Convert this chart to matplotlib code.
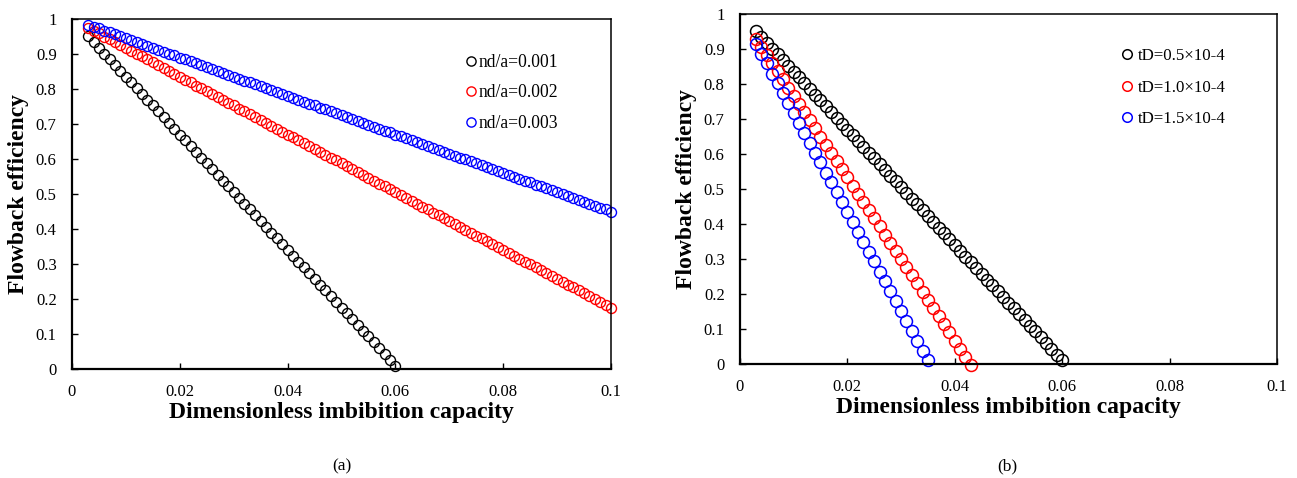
import matplotlib
matplotlib.use("Agg")
import matplotlib.pyplot as plt

plt.rcParams['font.family'] = ['Liberation Serif', 'DejaVu Serif']

# common x grid (dimensionless imbibition capacity)
x_grid = [0.003, 0.004, 0.005, 0.006, 0.007, 0.008, 0.009, 0.010, 0.011, 0.012,
          0.013, 0.014, 0.015, 0.016, 0.017, 0.018, 0.019, 0.020, 0.021, 0.022,
          0.023, 0.024, 0.025, 0.026, 0.027, 0.028, 0.029, 0.030, 0.031, 0.032,
          0.033, 0.034, 0.035, 0.036, 0.037, 0.038, 0.039, 0.040, 0.041, 0.042,
          0.043, 0.044, 0.045, 0.046, 0.047, 0.048, 0.049, 0.050, 0.051, 0.052,
          0.053, 0.054, 0.055, 0.056, 0.057, 0.058, 0.059, 0.060, 0.061, 0.062,
          0.063, 0.064, 0.065, 0.066, 0.067, 0.068, 0.069, 0.070, 0.071, 0.072,
          0.073, 0.074, 0.075, 0.076, 0.077, 0.078, 0.079, 0.080, 0.081, 0.082,
          0.083, 0.084, 0.085, 0.086, 0.087, 0.088, 0.089, 0.090, 0.091, 0.092,
          0.093, 0.094, 0.095, 0.096, 0.097, 0.098, 0.099, 0.100]

# (a) and (b) black series: nd/a=0.001, tD=0.5x10-4
eff_1 = [0.951, 0.934, 0.918, 0.901, 0.885, 0.868, 0.852, 0.835, 0.819, 0.802,
         0.786, 0.769, 0.753, 0.736, 0.720, 0.703, 0.687, 0.670, 0.654, 0.637,
         0.621, 0.604, 0.588, 0.571, 0.555, 0.538, 0.522, 0.505, 0.489, 0.472,
         0.456, 0.439, 0.423, 0.406, 0.390, 0.373, 0.357, 0.340, 0.324, 0.307,
         0.291, 0.274, 0.258, 0.241, 0.225, 0.208, 0.192, 0.175, 0.159, 0.142,
         0.126, 0.109, 0.093, 0.076, 0.060, 0.043, 0.027, 0.010]

# (a) nd/a=0.002
eff_a2 = [0.975, 0.967, 0.959, 0.950, 0.942, 0.934, 0.926, 0.918, 0.909, 0.901,
          0.893, 0.885, 0.876, 0.868, 0.860, 0.852, 0.843, 0.835, 0.827, 0.819,
          0.810, 0.802, 0.794, 0.786, 0.777, 0.769, 0.761, 0.753, 0.744, 0.736,
          0.728, 0.720, 0.711, 0.703, 0.695, 0.687, 0.678, 0.670, 0.662, 0.654,
          0.645, 0.637, 0.629, 0.621, 0.612, 0.604, 0.596, 0.588, 0.579, 0.571,
          0.563, 0.555, 0.546, 0.538, 0.530, 0.522, 0.513, 0.505, 0.497, 0.489,
          0.480, 0.472, 0.464, 0.456, 0.447, 0.439, 0.431, 0.423, 0.414, 0.406,
          0.398, 0.390, 0.381, 0.373, 0.365, 0.357, 0.348, 0.340, 0.332, 0.324,
          0.315, 0.307, 0.299, 0.291, 0.282, 0.274, 0.266, 0.258, 0.249, 0.241,
          0.233, 0.225, 0.216, 0.208, 0.200, 0.192, 0.183, 0.175]

# (a) nd/a=0.003
eff_a3 = [0.983, 0.978, 0.973, 0.967, 0.962, 0.956, 0.951, 0.945, 0.940, 0.934,
          0.929, 0.923, 0.918, 0.912, 0.907, 0.901, 0.896, 0.890, 0.885, 0.879,
          0.874, 0.868, 0.863, 0.857, 0.852, 0.846, 0.841, 0.835, 0.830, 0.824,
          0.819, 0.813, 0.808, 0.802, 0.797, 0.791, 0.786, 0.780, 0.775, 0.769,
          0.764, 0.758, 0.753, 0.747, 0.742, 0.736, 0.731, 0.725, 0.720, 0.714,
          0.709, 0.703, 0.698, 0.692, 0.687, 0.681, 0.676, 0.670, 0.665, 0.659,
          0.654, 0.648, 0.643, 0.637, 0.632, 0.626, 0.621, 0.615, 0.610, 0.604,
          0.599, 0.593, 0.588, 0.582, 0.577, 0.571, 0.566, 0.560, 0.555, 0.549,
          0.544, 0.538, 0.533, 0.527, 0.522, 0.516, 0.511, 0.505, 0.500, 0.494,
          0.489, 0.483, 0.478, 0.472, 0.467, 0.461, 0.456, 0.450]

# (b) tD=1.0x10-4
eff_b2 = [0.930, 0.907, 0.883, 0.860, 0.837, 0.813, 0.790, 0.767, 0.743, 0.720,
          0.697, 0.673, 0.650, 0.627, 0.603, 0.580, 0.557, 0.533, 0.510, 0.487,
          0.463, 0.440, 0.417, 0.393, 0.370, 0.347, 0.323, 0.300, 0.277, 0.253,
          0.230, 0.207, 0.183, 0.160, 0.137, 0.113, 0.090, 0.067, 0.043, 0.020,
          -0.003]

# (b) tD=1.5x10-4
eff_b3 = [0.915, 0.887, 0.859, 0.830, 0.802, 0.774, 0.745, 0.717, 0.689, 0.660,
          0.632, 0.604, 0.576, 0.547, 0.519, 0.491, 0.462, 0.434, 0.406, 0.377,
          0.349, 0.321, 0.293, 0.264, 0.236, 0.208, 0.179, 0.151, 0.123, 0.094,
          0.066, 0.038, 0.010]

labels_a = ["nd/a=0.001", "nd/a=0.002", "nd/a=0.003"]
labels_b = ["tD=0.5×10-4", "tD=1.0×10-4", "tD=1.5×10-4"]
colors = ["black", "red", "blue"]

x_ticks = [0, 0.02, 0.04, 0.06, 0.08, 0.1]
x_ticklabels = ["0", "0.02", "0.04", "0.06", "0.08", "0.1"]
y_ticks = [0, 0.1, 0.2, 0.3, 0.4, 0.5, 0.6, 0.7, 0.8, 0.9, 1]
y_ticklabels = ["0", "0.1", "0.2", "0.3", "0.4", "0.5", "0.6", "0.7", "0.8", "0.9", "1"]

fig = plt.figure(figsize=(12.97, 4.78), dpi=100)
ax1 = fig.add_axes([0.0555, 0.228, 0.4156, 0.7322])
ax2 = fig.add_axes([0.5705, 0.2385, 0.414, 0.7322])


def style(ax):
    ax.set_xlim(0, 0.1)
    ax.set_ylim(0, 1)
    ax.set_xticks(x_ticks)
    ax.set_xticklabels(x_ticklabels)
    ax.set_yticks(y_ticks)
    ax.set_yticklabels(y_ticklabels)
    ax.tick_params(axis='x', direction='in', length=4, width=1, labelsize=12, pad=10.5)
    ax.tick_params(axis='y', direction='in', length=4.5, width=1, labelsize=12, pad=11)
    ax.spines['bottom'].set_linewidth(1.6)
    ax.spines['left'].set_linewidth(1.6)
    ax.spines['top'].set_linewidth(1.1)
    ax.spines['right'].set_linewidth(1.1)
    ax.set_xlabel("Dimensionless imbibition capacity", fontsize=17, fontweight='bold', labelpad=2)
    ax.set_ylabel("Flowback efficiency", fontsize=17, fontweight='bold', labelpad=5)


series_a = [eff_1, eff_a2, eff_a3]
for y, c, lab in zip(series_a, colors, labels_a):
    ax1.plot(x_grid[:len(y)], y, 'o', mfc='none', mec=c, ms=7.2, mew=1.0,
             clip_on=False, label=lab)
style(ax1)
ax1.legend(loc='upper left', bbox_to_anchor=(0.714, 0.926), frameon=False, fontsize=12.7,
           handlelength=0.6, handletextpad=0.15, labelspacing=0.77, borderpad=0,
           markerscale=0.92)

series_b = [eff_1, eff_b2, eff_b3]
for y, c, lab in zip(series_b, colors, labels_b):
    ax2.plot(x_grid[:len(y)], y, 'o', mfc='none', mec=c, ms=8.6, mew=1.1,
             clip_on=False, label=lab)
style(ax2)
ax2.legend(loc='upper left', bbox_to_anchor=(0.696, 0.926), frameon=False, fontsize=12.2,
           handlelength=0.6, handletextpad=0.35, labelspacing=0.9, borderpad=0,
           markerscale=0.8)

fig.text(0.2635, 0.015, "(a)", fontsize=12.5, ha='center')
fig.text(0.7765, 0.015, "(b)", fontsize=12.5, ha='center')

fig.savefig("out.png", dpi=100)
